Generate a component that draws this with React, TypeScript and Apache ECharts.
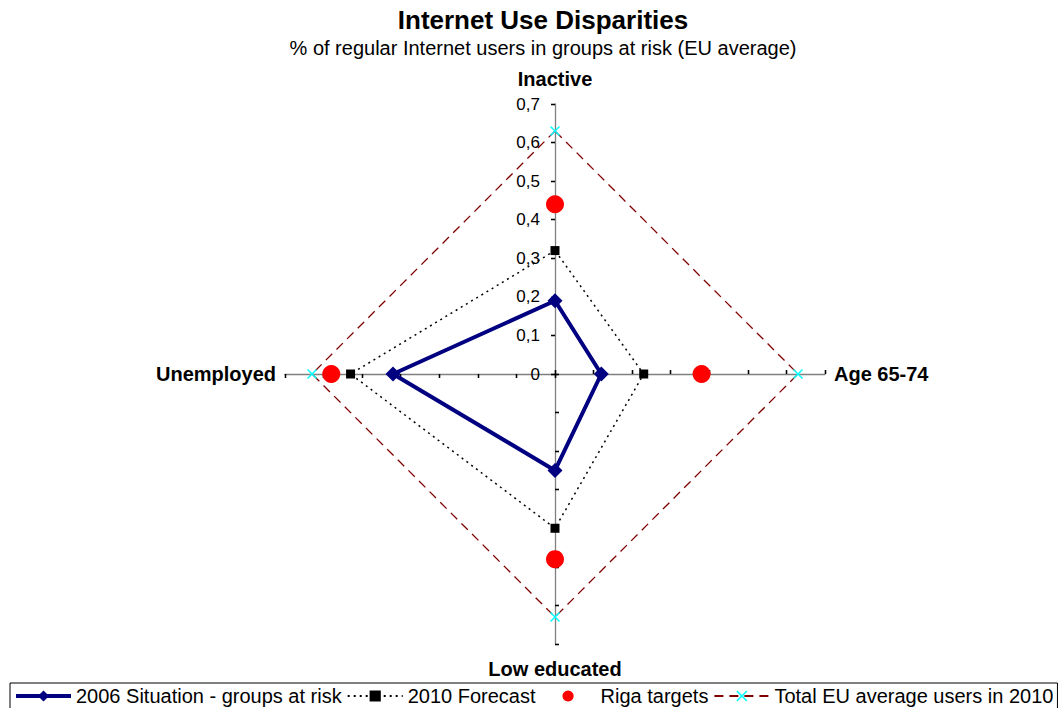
import React, { useEffect, useRef } from "react";
import * as echarts from "echarts";

const FONT = "'Liberation Sans', Arial, sans-serif";

// Radar axes, listed counter-clockwise from the top (ECharts radar order)
const categories = ["Inactive", "Unemployed", "Low educated", "Age 65-74"];
const axisMax = 0.7;
const axisSplits = 7;

const seriesNames = [
  "2006 Situation - groups at risk",
  "2010 Forecast",
  "Riga targets",
  "Total EU average users in 2010",
];

const situation2006 = [0.19, 0.42, 0.25, 0.12];
const forecast2010 = [0.32, 0.53, 0.4, 0.23];
const rigaTargets = [0.44, 0.58, 0.48, 0.38];
const euAverage2010 = [0.63, 0.63, 0.63, 0.63];

const X_SYMBOL =
  "path://M0,1L1,0L5,4L9,0L10,1L6,5L10,9L9,10L5,6L1,10L0,9L4,5Z";

const fmt = (v: number) => (Math.abs(v) < 1e-9 ? "0" : v.toFixed(1).replace(".", ","));

export default function App() {
  const ref = useRef<HTMLDivElement>(null);

  useEffect(() => {
    if (!ref.current) return;
    const chart = echarts.init(ref.current, null, { renderer: "svg" });

    const styles = [
      {
        color: "#000080",
        line: { color: "#000080", width: 4, type: "solid" as any },
        legendWidth: 4,
        symbol: "diamond",
        size: 15,
      },
      {
        color: "#000000",
        line: { color: "#000000", width: 1.5, type: [2, 4] as any },
        legendWidth: 2,
        symbol: "rect",
        size: 9,
      },
      {
        color: "#ff0000",
        line: { color: "#ff0000", width: 0, opacity: 0 },
        legendWidth: 0,
        symbol: "circle",
        size: 18,
      },
      {
        color: "#00ffff",
        line: { color: "#800000", width: 1.3, type: [9, 6] as any },
        legendWidth: 2,
        symbol: X_SYMBOL,
        size: 10,
      },
    ];
    const values = [situation2006, forecast2010, rigaTargets, euAverage2010];
    const nameGaps = [15, 9, 15, 9];

    const indicatorsMain = categories.map((name, i) => {
      const ind: any = { name, min: 0, max: axisMax, nameGap: nameGaps[i] };
      if (i === 0) {
        ind.axisLabel = {
          show: true,
          formatter: fmt,
          color: "#000",
          fontSize: 17,
          fontFamily: FONT,
          margin: 15,
        };
      }
      return ind;
    });
    const indicatorsTicks = categories.map((name) => ({ name, min: 0, max: axisMax }));

    const legendSeries = seriesNames.map((name, i) => ({
      type: "line",
      name,
      xAxisIndex: 0,
      yAxisIndex: 0,
      data: [],
      symbol: styles[i].symbol,
      itemStyle: { color: styles[i].color },
      lineStyle: styles[i].line,
    }));

    const radarSeries = [3, 1, 2, 0].map((i) => ({
      type: "radar",
      name: seriesNames[i],
      radarIndex: 0,
      symbol: styles[i].symbol,
      symbolSize: styles[i].size,
      itemStyle: { color: styles[i].color, borderWidth: 0 },
      lineStyle: styles[i].line,
      data: [{ name: seriesNames[i], value: values[i] }],
      z: 3 + i,
    }));

    chart.setOption({
      animation: false,
      backgroundColor: "#ffffff",
      textStyle: { fontFamily: FONT },
      title: [
        {
          text: "Internet Use Disparities",
          left: 543,
          textAlign: "center",
          top: 7,
          padding: 0,
          textStyle: { fontFamily: FONT, fontSize: 26, fontWeight: "bold", color: "#000" },
        },
        {
          text: "% of regular Internet users in groups at risk (EU average)",
          left: 543,
          textAlign: "center",
          top: 38,
          padding: 0,
          textStyle: { fontFamily: FONT, fontSize: 20, fontWeight: "normal", color: "#000" },
        },
      ],
      grid: { show: false, left: 0, top: 0, width: 1, height: 1 },
      xAxis: { type: "value", show: false },
      yAxis: { type: "value", show: false },
      legend: {
        data: seriesNames.map((name, i) => ({
          name,
          lineStyle: { width: styles[i].legendWidth },
        })),
        left: 10,
        top: 683,
        orient: "horizontal",
        itemWidth: 55,
        itemHeight: 14,
        itemGap: 5,
        padding: [3, 4, 4, 4],
        borderColor: "#000",
        borderWidth: 1,
        selectedMode: false,
        textStyle: { fontFamily: FONT, fontSize: 20, color: "#000" },
      },
      radar: [
        {
          center: [555, 374],
          radius: 270,
          startAngle: 90,
          shape: "polygon",
          splitNumber: axisSplits,
          indicator: indicatorsMain,
          nameGap: 12,
          axisName: { color: "#000", fontWeight: "bold", fontSize: 20, fontFamily: FONT },
          splitLine: { show: false },
          splitArea: { show: false },
          axisLine: { show: true, lineStyle: { color: "#808080", width: 1.3 } },
          axisTick: { show: true, length: 4, lineStyle: { color: "#000", width: 1.3 } },
          axisLabel: { show: false },
        },
        {
          center: [555, 374],
          radius: 270,
          startAngle: 90,
          shape: "polygon",
          splitNumber: axisSplits,
          indicator: indicatorsTicks,
          axisName: { show: false },
          splitLine: { show: false },
          splitArea: { show: false },
          axisLine: { show: false },
          axisTick: { show: true, inside: true, length: 4, lineStyle: { color: "#000", width: 1.3 } },
          axisLabel: { show: false },
        },
      ],
      series: [...legendSeries, ...radarSeries],
    });

    return () => chart.dispose();
  }, []);

  return (
    <div
      ref={ref}
      style={{ position: "absolute", left: 0, top: 0, width: 1060, height: 708, background: "#fff" }}
    />
  );
}
